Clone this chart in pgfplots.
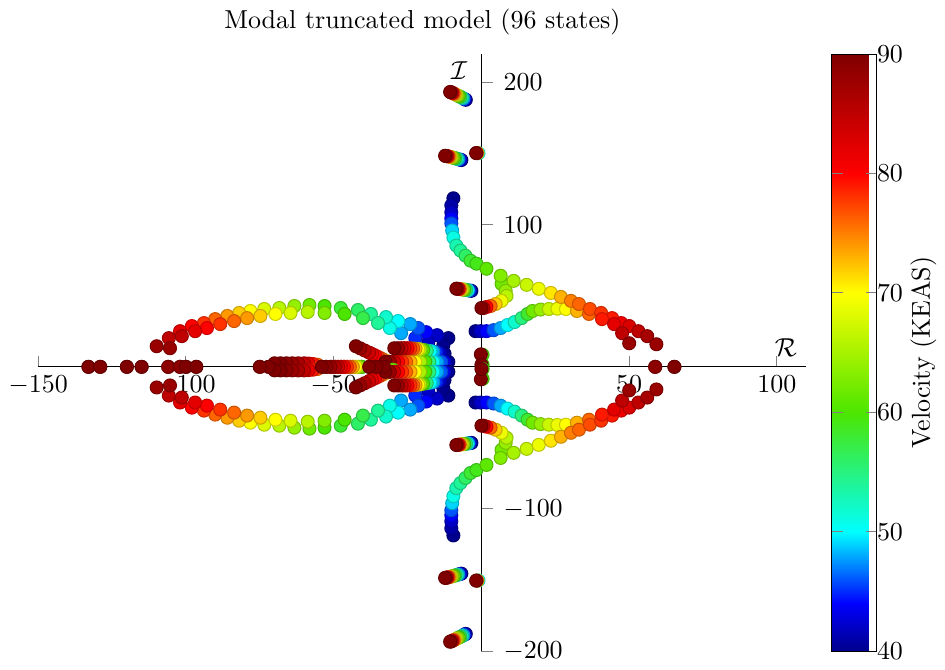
\documentclass[border=0pt]{standalone}
\usepackage{pgfplots}
\usepackage{pgfplotstable}
\pgfplotsset{compat=1.18}
\pgfplotstableread{
x y v
-11.2 20.2 40
-15.0 22.3 42
-18.7 24.4 44
-21.4 27.3 46
-24.1 30.1 48
-28.2 32.2 50
-32.3 35.0 52
-37.4 37.2 54
-41.8 40.0 56
-47.6 41.4 58
-53.1 42.8 60
-58.2 43.5 62
-63.3 42.8 64
-68.4 41.4 66
-73.5 40.7 68
-78.2 39.3 70
-82.0 37.9 72
-86.0 35.8 74
-90.1 33.6 76
-93.9 30.8 78
-98.0 28.7 80
-102.0 25.1 82
-105.8 20.2 85
-109.9 14.5 88
-12.9 15.2 40
-18.0 17.3 42
-22.4 20.2 45
-27.2 23.7 48
-31.0 27.3 51
-35.0 30.8 54
-40.1 34.3 57
-46.3 37.2 60
-53.1 37.9 63
-58.8 38.6 66
-64.6 37.9 68
-69.7 37.2 70
-74.8 35.8 72
-79.3 34.3 74
-83.7 32.2 76
-88.4 30.1 78
-92.9 27.3 80
-96.9 25.1 82
-101.4 21.6 85
-105.4 13.1 88
-9.5 118.6 40
-10.2 113.6 41
-10.2 108.7 42
-10.2 104.4 44
-10.2 100.9 46
-9.9 95.9 49
-9.5 91.0 51
-8.5 85.3 53
-7.1 81.8 54
-5.4 78.2 56
-3.7 74.7 58
-1.7 72.6 59
1.7 69.0 61
6.5 64.1 63
10.9 60.5 65
15.3 57.7 67
19.4 54.9 69
23.5 52.0 71
26.9 49.2 73
30.3 46.4 75
33.0 44.2 76
36.7 40.7 77
40.5 37.9 78
44.2 34.3 79
47.3 30.8 81
50.0 28.7 83
53.1 25.1 85
56.1 21.6 87
59.2 15.9 88
58.8 0 89
65.3 0 90
-2.0 25.1 40
-0.3 25.1 42
1.7 25.1 44
4.1 25.8 46
6.5 27.3 48
8.8 29.4 50
11.2 31.5 52
13.6 34.3 55
15.6 37.2 58
17.3 39.3 62
20.0 40.3 64
22.8 40.7 67
25.7 40.9 69
28.6 40.7 70
32.3 39.3 73
36.4 37.2 76
40.8 33.6 79
44.9 30.1 82
47.6 23.7 85
50.0 16.6 88
6.8 58.4 62
8.2 53.5 64
8.5 49.9 66
6.8 46.4 69
4.8 44.2 72
3.1 42.8 76
1.7 42.1 80
0.7 41.4 85
0.0 41.4 90
-5.3 187.9 40
-5.7 188.3 44
-6.1 188.8 48
-6.6 189.4 52
-7.1 189.9 56
-7.6 190.4 60
-8.1 190.9 64
-8.6 191.5 68
-9.0 191.9 72
-9.4 192.3 76
-9.8 192.7 80
-10.1 193.0 84
-10.4 193.2 88
-10.6 193.4 90
-6.8 145.5 40
-7.3 145.8 44
-7.8 146.1 48
-8.3 146.4 52
-8.8 146.7 56
-9.3 147.0 60
-9.8 147.3 64
-10.3 147.6 68
-10.7 147.8 72
-11.1 148.0 76
-11.5 148.2 80
-11.8 148.3 84
-12.1 148.4 88
-12.3 148.5 90
-1.0 150.3 50
-1.3 150.4 70
-1.6 150.4 85
-1.8 150.4 90
-3.4 53.5 40
-4.0 53.7 45
-4.6 53.9 50
-5.2 54.1 55
-5.8 54.3 60
-6.3 54.4 65
-6.8 54.6 70
-7.3 54.7 75
-7.7 54.8 80
-8.1 54.9 85
-8.5 55.0 90
-30.0 2.0 62
-31.0 3.0 66
-32.0 4.0 70
-33.0 5.0 73
-34.0 6.0 76
-35.0 7.0 78
-36.0 8.0 80
-37.0 9.0 82
-38.0 10.0 84
-39.5 11.5 86
-41.0 13.0 88
-42.5 14.5 90
-11.2 3.5 40
-12.5 3.5 43
-13.6 3.5 46
-15.0 3.5 48
-16.3 3.5 50
-17.6 3.5 55
-19.0 3.5 60
-20.7 3.5 65
-22.4 3.5 70
-24.0 3.5 73
-25.5 3.5 76
-26.8 3.5 78
-28.2 3.5 80
-29.5 3.5 84
-31.0 3.5 88
-32.5 3.5 90
-12.5 9.3 40
-14.0 9.8 42
-15.3 10.3 45
-16.3 10.7 48
-17.3 11.1 50
-18.5 11.5 55
-19.7 11.9 60
-20.6 12.2 65
-21.4 12.5 70
-22.3 12.7 73
-23.1 12.9 76
-24.0 13.0 78
-25.0 13.1 80
-26.0 13.1 83
-27.0 13.1 85
-28.2 13.1 88
-29.5 13.1 90
-55.5 1.5 76
-57.0 2.0 79
-58.5 2.3 82
-60.0 2.5 85
-62.0 2.5 87
-64.0 2.5 88
-66.0 2.5 89
-68.0 2.5 90
-70.0 2.5 90
-72.0 0 90
-75.0 0 90
-133.0 0 90
-129.0 0 90
-120.0 0 90
-115.0 0 90
-106.0 0 89
-102.0 0 89
-100.0 0 90
-96.5 0 90
-40.5 0 60
-41.5 0 65
-42.5 0 70
-43.5 0 73
-44.5 0 76
-45.5 0 78
-46.5 0 80
-47.5 0 82
-48.5 0 84
-49.5 0 86
-51.0 0 88
-52.5 0 89
-54.0 0 90
-33.0 0 90
-35.5 0 90
-38.0 0 90
0.4 8.5 60
-0.2 8.8 90
0.4 1.5 60
0.0 1.5 90
}\upper
\pgfplotstablesort[sort key=v]{\sortedupper}{\upper}
\begin{document}
\begin{tikzpicture}
\begin{axis}[
  scale only axis, width=296pt, height=230pt,
  axis lines=middle, axis line style={-},
  xmin=-150, xmax=110, ymin=-200, ymax=220,
  xtick={-150,-100,-50,50,100}, ytick={-200,-100,100,200},
  tick align=inside, tick style={gray, thin},
  yticklabel style={anchor=west, xshift=5pt},
  title={Modal truncated model (96 states)},
  title style={yshift=-2pt},
  xlabel={$\mathcal{R}$}, ylabel={$\mathcal{I}$},
  every axis x label/.style={at={(axis description cs:0.973,0.508)}, anchor=center},
  every axis y label/.style={at={(axis description cs:0.548,0.973)}, anchor=center},
  colormap={vel}{rgb(0pt)=(0,0,0.55); rgb(4pt)=(0,0,1); rgb(10pt)=(0,1,1); rgb(20pt)=(0.3,0.9,0); rgb(30pt)=(1,1,0); rgb(40pt)=(1,0,0); rgb(50pt)=(0.5,0,0)},
  point meta min=40, point meta max=90,
  colorbar,
  colorbar style={width=17.4pt, at={(parent axis.north east)}, anchor=north west, xshift=1.2pt, ytick={40,50,...,90}, ylabel={Velocity (KEAS)}, ylabel shift=-4pt, axis lines=box, tick align=inside, yticklabel style={anchor=west, xshift=-3.5pt}},
]
\addplot[scatter, only marks, mark=*, mark size=2.5pt, point meta=explicit] table[x=x, y=y, meta=v] {\sortedupper};
\addplot[scatter, only marks, mark=*, mark size=2.5pt, point meta=explicit] table[x=x, y expr=-\thisrow{y}, meta=v] {\sortedupper};
\end{axis}
\end{tikzpicture}
\end{document}
